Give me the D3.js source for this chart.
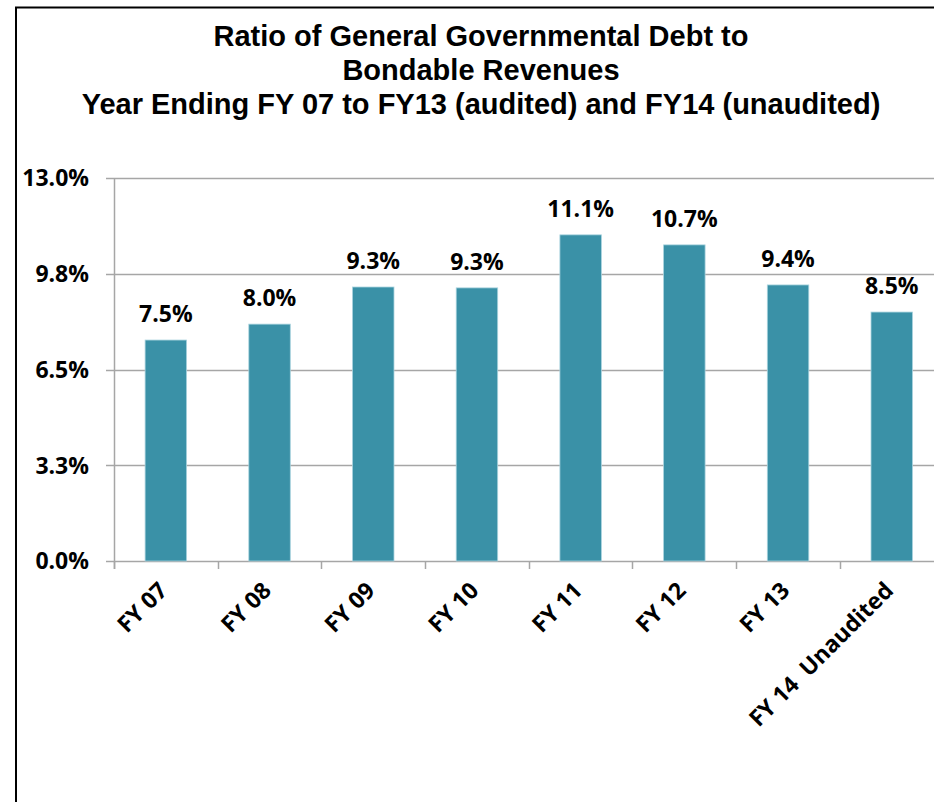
<!DOCTYPE html>
<html>
<head>
<meta charset="utf-8">
<script src="https://cdn.jsdelivr.net/npm/d3@7"></script>
<style>
  html, body { margin: 0; padding: 0; background: #fff; }
  svg { display: block; }
  text { font-family: "Open Sans", Lato, sans-serif; font-weight: 700; fill: #000; }
  text.title { font-family: "Liberation Sans", Arial, sans-serif; }
</style>
</head>
<body>
<svg id="chart" width="934" height="802"></svg>
<script>
const titleLines = [
  "Ratio of General Governmental Debt to",
  "Bondable Revenues",
  "Year Ending FY 07 to FY13 (audited) and FY14 (unaudited)"
];
const categories = ["FY 07", "FY 08", "FY 09", "FY 10", "FY 11", "FY 12", "FY 13", "FY 14  Unaudited"];
const values = [7.50, 8.04, 9.30, 9.27, 11.07, 10.73, 9.37, 8.45];
const valueLabels = ["7.5%", "8.0%", "9.3%", "9.3%", "11.1%", "10.7%", "9.4%", "8.5%"];
const yTicks = [0, 3.25, 6.5, 9.75, 13];

const svg = d3.select("#chart");
const W = 934, H = 802;
const plot = { left: 114, right: 943.6, top: 178, bottom: 561 };

svg.append("rect").attr("width", W).attr("height", H).attr("fill", "#fff");

// outer frame (left and top edges visible)
svg.append("line").attr("x1", 16).attr("x2", 16).attr("y1", 7).attr("y2", H + 2)
  .attr("stroke", "#000").attr("stroke-width", 2);
svg.append("line").attr("x1", 15).attr("x2", W + 2).attr("y1", 7.5).attr("y2", 7.5)
  .attr("stroke", "#000").attr("stroke-width", 2);

// title: fit the longest line to its width in the reference
const titleY = [46, 80, 114];
const titleTexts = titleLines.map((t, i) =>
  svg.append("text").attr("class", "title").attr("x", 481).attr("y", titleY[i])
    .attr("text-anchor", "middle").style("font-size", "26px").text(t));
const w3 = titleTexts[2].node().getComputedTextLength();
const fs = Math.min(29, 26 * 810 / w3);
titleTexts.forEach(t => t.style("font-size", fs + "px"));

const x = d3.scaleBand().domain(categories).range([plot.left, plot.right])
  .paddingInner(0.6).paddingOuter(0.3);
const y = d3.scaleLinear().domain([0, 13]).range([plot.bottom, plot.top]);
const step = x.step();
const gap = (step - x.bandwidth()) / 2;

const gridColor = "#a6a6a6";

// gridlines
svg.append("g").selectAll("line").data(yTicks).join("line")
  .attr("x1", plot.left - 8).attr("x2", W + 20)
  .attr("y1", d => Math.round(y(d)) + 0.5).attr("y2", d => Math.round(y(d)) + 0.5)
  .attr("stroke", gridColor).attr("stroke-width", 1.5);

// y axis line
svg.append("line").attr("x1", plot.left + 0.5).attr("x2", plot.left + 0.5)
  .attr("y1", plot.top).attr("y2", plot.bottom + 8)
  .attr("stroke", gridColor).attr("stroke-width", 1.5);

// x category tick marks at boundaries
svg.append("g").selectAll("line").data(categories).join("line")
  .attr("x1", d => Math.round(x(d) - gap) + 0.5).attr("x2", d => Math.round(x(d) - gap) + 0.5)
  .attr("y1", plot.bottom).attr("y2", plot.bottom + 8)
  .attr("stroke", gridColor).attr("stroke-width", 1.5);

// y tick labels
svg.append("g").selectAll("text").data(yTicks).join("text")
  .attr("x", 89).attr("y", d => y(d)).attr("dy", "0.36em")
  .attr("text-anchor", "end").style("font-size", "23px")
  .text(d => d.toFixed(1) + "%");

// bars
svg.append("g").selectAll("rect").data(values).join("rect")
  .attr("x", (d, i) => x(categories[i]))
  .attr("width", x.bandwidth())
  .attr("y", d => y(d))
  .attr("height", d => plot.bottom - y(d))
  .attr("fill", "#3a91a7")
  .attr("stroke", "#a9d3de").attr("stroke-width", 0.8);

// value labels
svg.append("g").selectAll("text").data(values).join("text")
  .attr("x", (d, i) => x(categories[i]) + x.bandwidth() / 2)
  .attr("y", d => y(d) - 18)
  .attr("text-anchor", "middle").style("font-size", "23px")
  .text((d, i) => valueLabels[i]);

// x category labels rotated
svg.append("g").selectAll("text").data(categories).join("text")
  .attr("transform", d => `translate(${x(d) + x.bandwidth() / 2 + 3},${plot.bottom + 31}) rotate(-45)`)
  .attr("text-anchor", "end").style("font-size", "23px")
  .attr("xml:space", "preserve").style("white-space", "pre")
  .text(d => d);
</script>
</body>
</html>
